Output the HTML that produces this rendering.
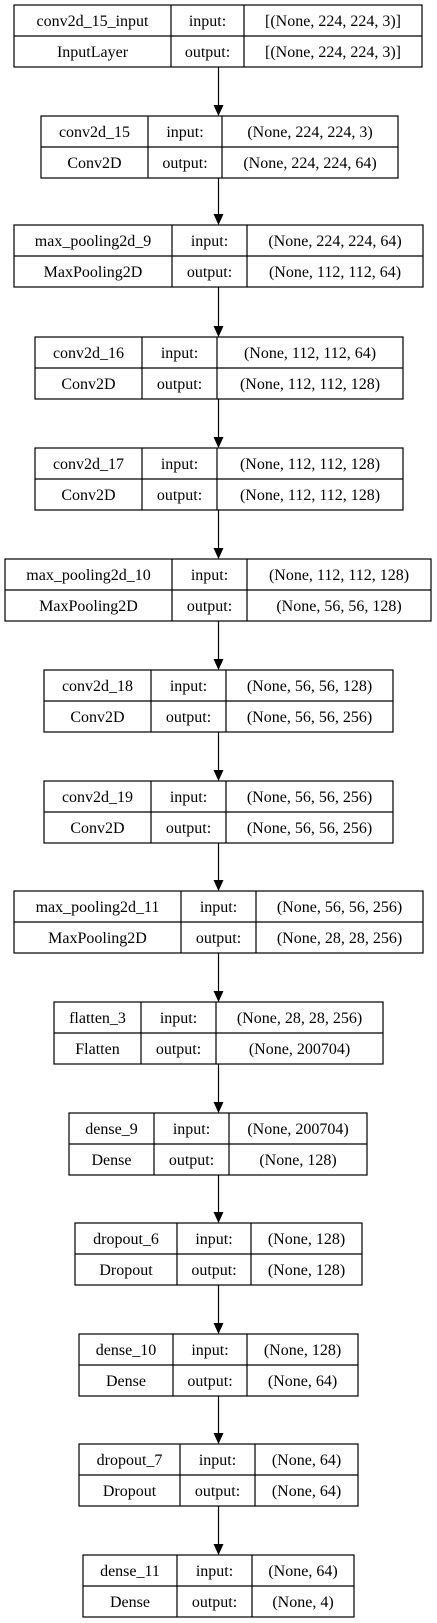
<!DOCTYPE html>
<html><head><meta charset="utf-8"><style>
html,body{margin:0;padding:0;background:#fff;}
svg{display:block;}
text{font-family:"Liberation Serif","Times New Roman",serif;font-size:16px;fill:#000;text-anchor:middle;}
</style></head><body>
<svg width="437" height="1623" viewBox="0 0 437 1623" xmlns="http://www.w3.org/2000/svg">
<g id="boxes" stroke="#000" stroke-width="1.2" fill="none"></g>
<g id="arrows"></g>
<g id="labels"></g>
</svg>
<script>
const B=[
["conv2d_15_input","InputLayer","[(None, 224, 224, 3)]","[(None, 224, 224, 3)]",5,14,171,244,422],
["conv2d_15","Conv2D","(None, 224, 224, 3)","(None, 224, 224, 64)",116,41,148,222,398],
["max_pooling2d_9","MaxPooling2D","(None, 224, 224, 64)","(None, 112, 112, 64)",225,14,172,247,423],
["conv2d_16","Conv2D","(None, 112, 112, 64)","(None, 112, 112, 128)",337,35,142,217,403],
["conv2d_17","Conv2D","(None, 112, 112, 128)","(None, 112, 112, 128)",448,35,142,217,403],
["max_pooling2d_10","MaxPooling2D","(None, 112, 112, 128)","(None, 56, 56, 128)",559,5,172,247,431],
["conv2d_18","Conv2D","(None, 56, 56, 128)","(None, 56, 56, 256)",670,44,151,226,393],
["conv2d_19","Conv2D","(None, 56, 56, 256)","(None, 56, 56, 256)",781,44,151,226,393],
["max_pooling2d_11","MaxPooling2D","(None, 56, 56, 256)","(None, 28, 28, 256)",891,14,181,256,423],
["flatten_3","Flatten","(None, 28, 28, 256)","(None, 200704)",1002,54,141,216,383],
["dense_9","Dense","(None, 200704)","(None, 128)",1113,69,154,229,367],
["dropout_6","Dropout","(None, 128)","(None, 128)",1223,75,177,251,362],
["dense_10","Dense","(None, 128)","(None, 64)",1334,79,173,247,358],
["dropout_7","Dropout","(None, 64)","(None, 64)",1444,79,180,255,358],
["dense_11","Dense","(None, 64)","(None, 4)",1555,83,177,252,354]];
const NS="http://www.w3.org/2000/svg";
const gb=document.getElementById("boxes"),ga=document.getElementById("arrows"),gl=document.getElementById("labels");
function el(t,a,p,txt){const e=document.createElementNS(NS,t);for(const k in a)e.setAttribute(k,a[k]);if(txt!==undefined)e.textContent=txt;p.appendChild(e);return e;}
const AX=218.5;
B.forEach((b,i)=>{
 const [n,c,inp,out,y,x0,d1,d2,x1]=b;const h=62;
 el("rect",{x:x0,y:y,width:x1-x0,height:h},gb);
 el("line",{x1:x0,y1:y+31,x2:x1,y2:y+31},gb);
 el("line",{x1:d1,y1:y,x2:d1,y2:y+h},gb);
 el("line",{x1:d2,y1:y,x2:d2,y2:y+h},gb);
 const r1=y+21,r2=y+52;
 el("text",{x:(x0+d1)/2,y:r1},gl,n);
 el("text",{x:(x0+d1)/2,y:r2},gl,c);
 el("text",{x:(d1+d2)/2,y:r1},gl,"input:");
 el("text",{x:(d1+d2)/2,y:r2},gl,"output:");
 el("text",{x:(d2+x1)/2,y:r1},gl,inp);
 el("text",{x:(d2+x1)/2,y:r2},gl,out);
 if(i<B.length-1){
  const ny=B[i+1][4];
  el("line",{x1:AX,y1:y+h,x2:AX,y2:ny-10,stroke:"#000","stroke-width":1.2},ga);
  el("polygon",{points:`${AX-5},${ny-11} ${AX+5},${ny-11} ${AX},${ny}`,fill:"#000"},ga);
 }
});
</script>
</body></html>
